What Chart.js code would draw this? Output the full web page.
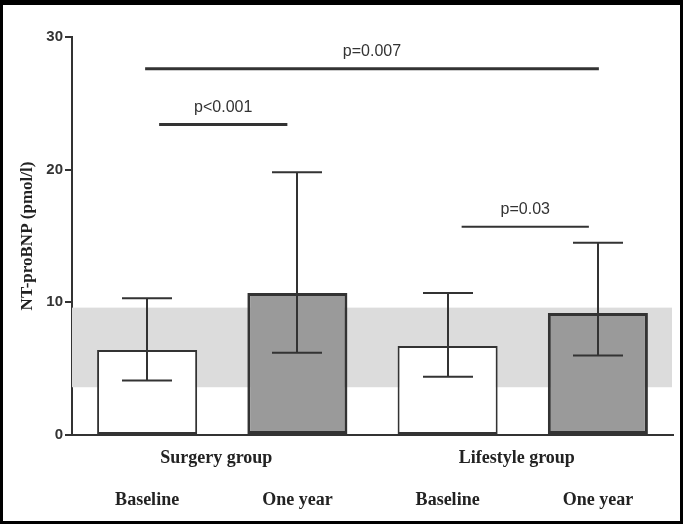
<!DOCTYPE html>
<html>
<head>
<meta charset="utf-8">
<script src="https://cdn.jsdelivr.net/npm/chart.js@4/dist/chart.umd.min.js"></script>
<style>
    body { margin: 0; background: #fff; }
    canvas { display: block; }
</style>
</head>
<body>
<canvas id="bnp_chart" width="683" height="524"></canvas>
<script>
// values (pmol/l)
const bar_labels = ['Baseline', 'One year', 'Baseline', 'One year'];
const group_labels = ['Surgery group', 'Lifestyle group'];
const bar_means = [6.4, 10.7, 6.7, 9.2];
const err_low = [4.1, 6.2, 4.4, 6.0];
const err_high = [10.3, 19.8, 10.7, 14.5];
const normal_range = [3.6, 9.6];
const y_ticks = [0, 10, 20, 30];

// significance brackets
const bracket_text = ['p=0.007', 'p<0.001', 'p=0.03'];
const bracket_from = [0, 0, 2];
const bracket_to = [3, 1, 3];
const bracket_level = [27.6, 23.4, 15.7];

const ink = '#333333';
const bracket_inset = [[-2, -1], [12, 10], [14, 9]];
const bracket_width = [3, 3, 2];

const overlay_plugin = {
    id: 'overlay',
    beforeDraw(chart) {
        const ctx = chart.ctx;
        ctx.save();
        ctx.fillStyle = '#ffffff';
        ctx.fillRect(0, 0, chart.width, chart.height);
        ctx.restore();
    },
    beforeDatasetsDraw(chart) {
        // grey reference band
        const ctx = chart.ctx;
        const y = chart.scales.y;
        const area = chart.chartArea;
        const top = y.getPixelForValue(normal_range[1]);
        const bottom = y.getPixelForValue(normal_range[0]);
        ctx.save();
        ctx.fillStyle = '#dcdcdc';
        ctx.fillRect(area.left, top, area.right - area.left - 1, bottom - top);
        ctx.restore();
    },
    afterDatasetsDraw(chart) {
        const ctx = chart.ctx;
        const x = chart.scales.x;
        const y = chart.scales.y;
        ctx.save();
        ctx.strokeStyle = ink;
        ctx.lineWidth = 2;
        for (let i = 0; i < bar_means.length; i++) {
            const cx = Math.round(x.getPixelForValue(i));
            const hi = y.getPixelForValue(err_high[i]);
            const lo = y.getPixelForValue(err_low[i]);
            ctx.beginPath();
            ctx.moveTo(cx, hi);
            ctx.lineTo(cx, lo);
            ctx.moveTo(cx - 25, hi);
            ctx.lineTo(cx + 25, hi);
            ctx.moveTo(cx - 25, lo);
            ctx.lineTo(cx + 25, lo);
            ctx.stroke();
        }

        ctx.fillStyle = ink;
        ctx.font = '16px "Liberation Sans", Arial, sans-serif';
        ctx.textAlign = 'center';
        ctx.textBaseline = 'middle';
        for (let i = 0; i < bracket_text.length; i++) {
            const x0 = x.getPixelForValue(bracket_from[i]) + bracket_inset[i][0];
            const x1 = x.getPixelForValue(bracket_to[i]) - bracket_inset[i][1];
            const ly = y.getPixelForValue(bracket_level[i]);
            ctx.lineWidth = bracket_width[i];
            ctx.beginPath();
            ctx.moveTo(x0, ly);
            ctx.lineTo(x1, ly);
            ctx.stroke();
            ctx.fillText(bracket_text[i], (x0 + x1) / 2, ly - 17);
        }

        ctx.fillStyle = '#222222';
        ctx.font = 'bold 18px "Liberation Serif", "Times New Roman", serif';
        for (let g = 0; g < group_labels.length; g++) {
            const mid = (x.getPixelForValue(g * 2) + x.getPixelForValue(g * 2 + 1)) / 2;
            ctx.fillText(group_labels[g], mid - 6, 458);
        }
        ctx.restore();
    },
    afterDraw(chart) {
        // black frame
        const ctx = chart.ctx;
        ctx.save();
        ctx.fillStyle = '#000000';
        ctx.fillRect(0, 0, chart.width, 5);
        ctx.fillRect(0, 0, 3, chart.height);
        ctx.fillRect(chart.width - 3, 0, 3, chart.height);
        ctx.fillRect(0, chart.height - 3, chart.width, 3);
        ctx.restore();
    },
};

new Chart(document.getElementById('bnp_chart').getContext('2d'), {
    type: 'bar',
    data: {
        labels: bar_labels,
        datasets: [
            {
                data: bar_means,
                backgroundColor: ['#ffffff', '#9a9a9a', '#ffffff', '#9a9a9a'],
                borderColor: ink,
                borderWidth: [2, 3, 2, 3],
                borderSkipped: false,
                categoryPercentage: 0.666,
                barPercentage: 1,
            },
        ],
    },
    options: {
        responsive: false,
        devicePixelRatio: 1,
        animation: false,
        layout: {
            padding: { left: 0, right: 10, top: 37, bottom: 0 },
        },
        plugins: {
            legend: { display: false },
            tooltip: { enabled: false },
        },
        scales: {
            x: {
                grid: { display: false, drawTicks: false },
                border: { display: true, color: ink, width: 2 },
                ticks: {
                    color: '#222222',
                    padding: 55,
                    font: { family: '"Liberation Serif", "Times New Roman", serif', size: 18, weight: 'bold' },
                },
                afterFit: (scale) => {
                    scale.height = 89;
                    // the big label gap should not push the plot inward
                    scale.paddingLeft = 0;
                    scale.paddingRight = 0;
                },
            },
            y: {
                min: 0,
                max: 30,
                afterBuildTicks: (scale) => {
                    scale.ticks = y_ticks.map((v) => ({ value: v }));
                },
                grid: {
                    display: true,
                    drawOnChartArea: false,
                    drawTicks: true,
                    tickLength: 7,
                    color: ink,
                    lineWidth: 2,
                },
                border: { display: true, color: ink, width: 2 },
                ticks: {
                    color: ink,
                    padding: 2,
                    font: { family: '"Liberation Sans", Arial, sans-serif', size: 15, weight: 'bold' },
                },
                title: {
                    display: true,
                    text: 'NT-proBNP (pmol/l)',
                    color: '#222222',
                    padding: { top: 17, bottom: 0 },
                    font: { family: '"Liberation Serif", "Times New Roman", serif', size: 17, weight: 'bold' },
                },
                afterFit: (scale) => {
                    scale.width = 72;
                },
            },
        },
    },
    plugins: [overlay_plugin],
});
</script>
</body>
</html>
